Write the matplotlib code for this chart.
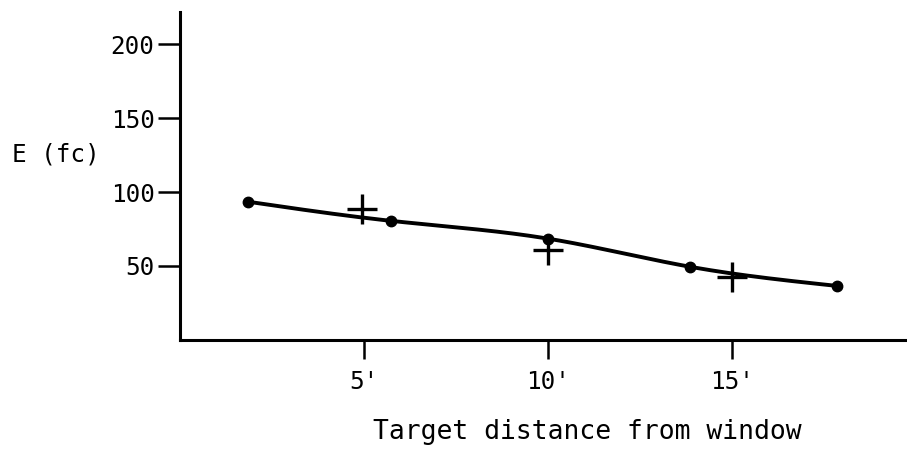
import numpy as np
import matplotlib
matplotlib.use("Agg")
import matplotlib.pyplot as plt

# Measured points (circles) and crosses
circle_x = [1.85, 5.75, 10.0, 13.85, 17.85]
circle_y = [93.5, 80.5, 68.5, 49.5, 36.5]
cross_x = [4.95, 10.0, 15.0]
cross_y = [88.5, 60.5, 42.5]
xtick_vals = [5, 10, 15]
xtick_labels = ["5'", "10'", "15'"]
ytick_vals = [50, 100, 150, 200]
ytick_labels = ["50", "100", "150", "200"]

plt.rcParams['font.family'] = ['DejaVu Sans Mono']

fig = plt.figure(figsize=(9.07, 4.72), dpi=100)
ax = fig.add_axes([0.198, 0.28, 0.80, 0.695])

# natural cubic spline through the circle measurements
xs = np.array(circle_x); ys = np.array(circle_y)
n = len(xs); h = np.diff(xs)
A = np.zeros((n, n)); b = np.zeros(n)
A[0, 0] = A[-1, -1] = 1
for i in range(1, n - 1):
    A[i, i - 1] = h[i - 1]; A[i, i] = 2 * (h[i - 1] + h[i]); A[i, i + 1] = h[i]
    b[i] = 6 * ((ys[i + 1] - ys[i]) / h[i] - (ys[i] - ys[i - 1]) / h[i - 1])
M = np.linalg.solve(A, b)
xx, yy = [], []
for i in range(n - 1):
    t = np.linspace(xs[i], xs[i + 1], 50)
    a = xs[i + 1] - t; c = t - xs[i]
    s = (M[i] * a**3 + M[i + 1] * c**3) / (6 * h[i]) \
        + (ys[i] / h[i] - M[i] * h[i] / 6) * a + (ys[i + 1] / h[i] - M[i + 1] * h[i] / 6) * c
    xx.extend(t); yy.extend(s)
ax.plot(xx, yy, color='black', lw=2.8, solid_capstyle='round')
ax.plot(circle_x, circle_y, 'o', color='black', ms=7.5)
ax.plot(cross_x, cross_y, '+', color='black', ms=22, mew=2.4)

ax.set_xlim(0, 19.7)
ax.set_ylim(0, 222)
for s in ['top', 'right']:
    ax.spines[s].set_visible(False)
for s in ['left', 'bottom']:
    ax.spines[s].set_linewidth(2.2)
ax.set_xticks(xtick_vals)
ax.set_xticklabels(xtick_labels)
ax.set_yticks(ytick_vals)
ax.set_yticklabels(ytick_labels)
ax.tick_params(axis='y', direction='out', length=16, width=1.8, labelsize=17.5, pad=2)
ax.tick_params(axis='x', direction='out', length=14, width=1.8, labelsize=17.5, pad=8)

fig.text(0.013, 0.672, "E (fc)", fontsize=17.5, ha='left', va='center')
fig.text(0.648, 0.085, "Target distance from window", fontsize=19, ha='center', va='center')

fig.savefig("out.png", dpi=100)
